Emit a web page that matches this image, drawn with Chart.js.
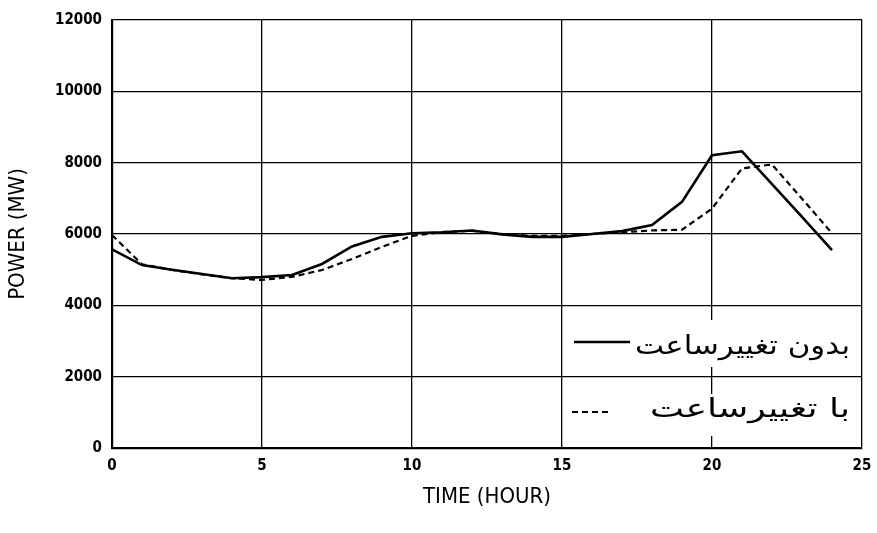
<!DOCTYPE html>
<html>
<head>
<meta charset="utf-8">
<script src="https://cdn.jsdelivr.net/npm/chart.js@4/dist/chart.umd.min.js"></script>
<style>
  html, body { margin: 0; padding: 0; background: #fff; }
  #wrap { width: 877px; height: 533px; }
</style>
</head>
<body>
<div id="wrap"><canvas id="powerChart" width="877" height="533"></canvas></div>
<script>
// Données (heures 0..24)
const hours = [0, 1, 2, 3, 4, 5, 6, 7, 8, 9, 10, 11, 12, 13, 14, 15, 16, 17, 18, 19, 20, 21, 22, 23, 24];
const withoutShift = [5570, 5130, 5000, 4880, 4760, 4790, 4850, 5160, 5650, 5920, 6020, 6050, 6100, 5990, 5920, 5920, 6000, 6080, 6250, 6900, 8210, 8320, 7400, 6480, 5550];
const withShift = [5970, 5150, 4990, 4870, 4760, 4710, 4800, 4990, 5300, 5640, 5950, 6050, 6090, 6000, 5950, 5950, 6000, 6050, 6100, 6120, 6710, 7840, 7950, 6990, 6020];

const xTicks = [0, 5, 10, 15, 20, 25];
const yTicks = [0, 2000, 4000, 6000, 8000, 10000, 12000];

const legendLabels = ['بدون تغییرساعت', 'با تغییرساعت'];

const narrow = '"DejaVu Sans Condensed", sans-serif';
const tickFont = { family: narrow, weight: 'bold', size: 15 };
const titleFont = { family: narrow, size: 22 };

// Légende dessinée dans la zone du graphique (en bas à droite)
const insideLegend = {
  id: 'insideLegend',
  afterDraw(chart) {
    const { ctx, chartArea } = chart;
    const right = chartArea.right - 4;
    const left = chartArea.left + 455;
    const rows = [
      { y: 347, top: 320, bottom: 367, textW: 215 },
      { y: 410, top: 394, bottom: 436, textW: 200 }
    ];
    ctx.save();
    rows.forEach((row, i) => {
      const ds = chart.data.datasets[i];
      ctx.fillStyle = '#fff';
      ctx.fillRect(left, row.top, right - left, row.bottom - row.top);
      ctx.strokeStyle = '#000';
      ctx.lineWidth = ds.borderWidth;
      ctx.setLineDash(ds.borderDash || []);
      ctx.beginPath();
      if (i === 0) {
        ctx.moveTo(574, row.y - 5);
        ctx.lineTo(630, row.y - 5);
      } else {
        ctx.moveTo(572, row.y + 2);
        ctx.lineTo(612, row.y + 2);
      }
      ctx.stroke();
      ctx.setLineDash([]);
      // texte étiré horizontalement comme dans l'original
      ctx.fillStyle = '#000';
      ctx.direction = 'rtl';
      ctx.font = '26px "DejaVu Sans"';
      ctx.textAlign = 'right';
      ctx.textBaseline = 'middle';
      const w = ctx.measureText(ds.label).width;
      const sx = row.textW / w;
      ctx.save();
      ctx.translate(850, row.y);
      ctx.scale(sx, 1);
      ctx.fillText(ds.label, 0, 0);
      ctx.restore();
    });
    ctx.restore();
  }
};

new Chart(document.getElementById('powerChart'), {
  type: 'line',
  data: {
    labels: hours,
    datasets: [
      {
        label: legendLabels[0],
        data: hours.map((h, i) => ({ x: h, y: withoutShift[i] })),
        borderColor: '#000',
        borderWidth: 2.6,
        pointRadius: 0,
        tension: 0,
        fill: false
      },
      {
        label: legendLabels[1],
        data: hours.map((h, i) => ({ x: h, y: withShift[i] })),
        borderColor: '#000',
        borderWidth: 2.2,
        borderDash: [6, 4],
        pointRadius: 0,
        tension: 0,
        fill: false
      }
    ]
  },
  options: {
    responsive: false,
    animation: false,
    layout: { padding: { left: 0, right: 15, top: 20, bottom: 0 } },
    scales: {
      x: {
        type: 'linear',
        min: 0,
        max: 25,
        afterBuildTicks: scale => { scale.ticks = xTicks.map(v => ({ value: v })); },
        afterFit: scale => {
          scale.height = 85;
          scale.paddingLeft = 0;
          scale.paddingRight = 0;
        },
        grid: { color: '#000', lineWidth: 1.3, drawTicks: false },
        border: { color: '#000', width: 2.2 },
        ticks: { color: '#000', font: tickFont, padding: 9, maxRotation: 0, callback: v => String(v) },
        title: {
          display: true,
          text: 'TIME (HOUR)',
          color: '#000',
          font: titleFont,
          padding: { top: 0, bottom: 23 }
        }
      },
      y: {
        min: 0,
        max: 12000,
        afterBuildTicks: scale => { scale.ticks = yTicks.map(v => ({ value: v })); },
        afterFit: scale => { scale.width = 112; },
        grid: { color: '#000', lineWidth: 1.3, drawTicks: false },
        border: { color: '#000', width: 2.2 },
        ticks: { color: '#000', font: tickFont, padding: 10, callback: v => String(v) },
        title: {
          display: true,
          text: 'POWER (MW)',
          color: '#000',
          font: titleFont,
          padding: { top: 5, bottom: 0 }
        }
      }
    },
    plugins: {
      legend: { display: false },
      tooltip: { enabled: false }
    }
  },
  plugins: [insideLegend]
});
</script>
</body>
</html>
